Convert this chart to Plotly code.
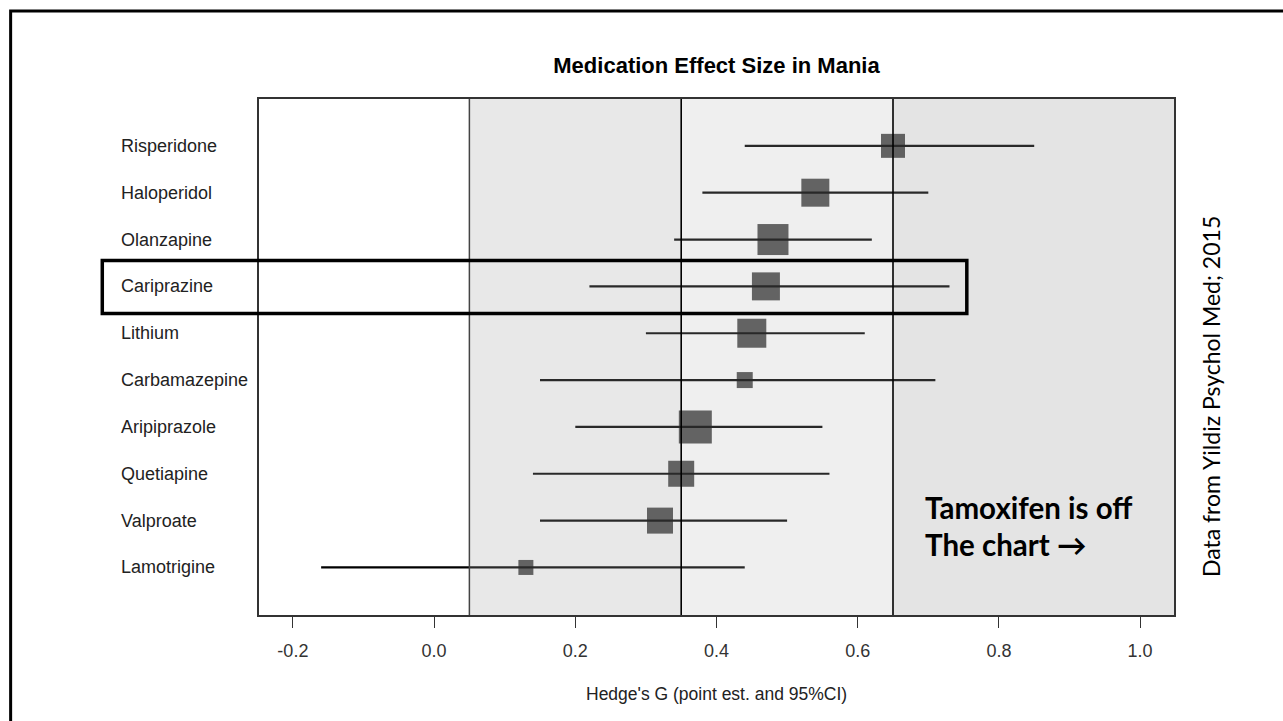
import plotly.graph_objects as go

# ---- data ----
drugs = ["Risperidone", "Haloperidol", "Olanzapine", "Cariprazine", "Lithium",
         "Carbamazepine", "Aripiprazole", "Quetiapine", "Valproate", "Lamotrigine"]
estimate = [0.65, 0.54, 0.48, 0.47, 0.45, 0.44, 0.37, 0.35, 0.32, 0.13]
ci_low = [0.44, 0.38, 0.34, 0.22, 0.30, 0.15, 0.20, 0.14, 0.15, -0.16]
ci_high = [0.85, 0.70, 0.62, 0.73, 0.61, 0.71, 0.55, 0.56, 0.50, 0.44]
weight = [24, 28, 31, 28, 29, 16, 33, 26, 26, 15]   # box size ~ study weight
thresholds = [0.05, 0.35, 0.65]
x_ticks = [-0.2, 0.0, 0.2, 0.4, 0.6, 0.8, 1.0]
highlight = "Cariprazine"

W, H = 1283, 721
ML, MR, MT, MB = 258.5, 109, 99, 106
PW, PH = W - ML - MR, H - MT - MB
XR = [-0.248, 1.048]
YR = [-0.015, 11.0]

def px(xp):   # pixel x -> paper x
    return (xp - ML) / PW

def py(yp):   # pixel y -> paper y
    return (H - MB - yp) / PH

ypos = [len(drugs) - i for i in range(len(drugs))]
err_plus = [h - e for h, e in zip(ci_high, estimate)]
err_minus = [e - l for e, l in zip(estimate, ci_low)]

fig = go.Figure()
fig.add_trace(go.Scatter(
    x=estimate, y=ypos, mode="markers",
    marker=dict(symbol="square", size=weight, color="black", line=dict(width=0)),
    error_x=dict(type="data", symmetric=False, array=err_plus, arrayminus=err_minus,
                 thickness=2.2, width=0, color="black"),
    hoverinfo="skip", showlegend=False, cliponaxis=False,
))

shapes = []
# shaded bands (semi-transparent overlay drawn above the marks)
band_edges = thresholds + [XR[1]]
band_fill = ["rgba(162,162,162,0.25)", "rgba(182,182,182,0.22)", "rgba(152,152,152,0.265)"]
for i in range(len(thresholds)):
    shapes.append(dict(type="rect", xref="x", yref="paper", x0=band_edges[i], x1=band_edges[i + 1],
                       y0=0, y1=1, layer="above", line=dict(width=0), fillcolor=band_fill[i]))
shapes.append(dict(type="line", xref="x", yref="paper", x0=thresholds[0], x1=thresholds[0],
                   y0=0, y1=1, layer="above", line=dict(color="#444", width=1.5)))
for t in thresholds[1:]:
    shapes.append(dict(type="line", xref="x", yref="paper", x0=t, x1=t, y0=0, y1=1,
                       layer="above", line=dict(color="black", width=1.6)))
# highlight box around Cariprazine row
hy = ypos[drugs.index(highlight)]
shapes.append(dict(type="rect", xref="paper", yref="y", x0=px(101.7), x1=px(966.7),
                   y0=hy - 0.58, y1=hy + 0.55, layer="above",
                   line=dict(color="black", width=3.5), fillcolor="rgba(0,0,0,0)"))
# slide frame (top / left)
shapes.append(dict(type="rect", xref="paper", yref="paper", x0=px(10), x1=px(W + 50),
                   y0=py(H + 50), y1=py(11), layer="above",
                   line=dict(color="black", width=3), fillcolor="rgba(0,0,0,0)"))

annotations = []
for d, y in zip(drugs, ypos):
    annotations.append(dict(text=d, xref="paper", yref="y", x=px(118), y=y,
                            xanchor="left", yanchor="middle", showarrow=False,
                            font=dict(family="Liberation Sans", size=18, color="#222")))
annotations.append(dict(text="Hedge's G (point est. and 95%CI)", xref="paper", yref="paper",
                        x=0.5, y=py(694), xanchor="center", yanchor="middle", showarrow=False,
                        font=dict(family="Liberation Sans", size=17.5, color="#222")))
annotations.append(dict(text="<b>Tamoxifen is off</b>", xref="paper", yref="paper",
                        x=px(923), y=py(507), xanchor="left", yanchor="middle", showarrow=False,
                        font=dict(family="Lato", size=29.5, color="black")))
annotations.append(dict(text="<b>The chart \u2192</b>", xref="paper", yref="paper",
                        x=px(923), y=py(544), xanchor="left", yanchor="middle", showarrow=False,
                        font=dict(family="Lato", size=29.5, color="black")))
annotations.append(dict(text="Data from Yildiz Psychol Med; 2015", xref="paper", yref="paper",
                        x=px(1211), y=py(396), xanchor="center", yanchor="middle",
                        textangle=-90, showarrow=False,
                        font=dict(family="Lato", size=23, color="black")))

fig.update_layout(
    width=W, height=H,
    margin=dict(l=ML, r=MR, t=MT, b=MB, pad=0),
    paper_bgcolor="white", plot_bgcolor="white",
    title=dict(text="<b>Medication Effect Size in Mania</b>", x=0.5, xref="paper",
               y=1 - 65 / H, yref="container", xanchor="center", yanchor="middle",
               font=dict(family="Liberation Sans", size=22, color="black")),
    shapes=shapes, annotations=annotations,
    xaxis=dict(range=XR, tickvals=x_ticks, ticktext=[f"{v:.1f}" for v in x_ticks],
               showgrid=False, zeroline=False, showline=True, mirror=True,
               linecolor="#333", linewidth=1.5, ticks="outside", ticklen=11,
               tickcolor="#333", tickwidth=1.2, ticklabelstandoff=8,
               tickfont=dict(family="Liberation Sans", size=18, color="#333")),
    yaxis=dict(range=YR, showticklabels=False, ticks="", showgrid=False, zeroline=False,
               showline=True, mirror=True, linecolor="#333", linewidth=1.5),
)

fig.write_html("out.html", config={"displayModeBar": False},
               post_script="document.body.style.margin='0';document.body.style.overflow='hidden';")
